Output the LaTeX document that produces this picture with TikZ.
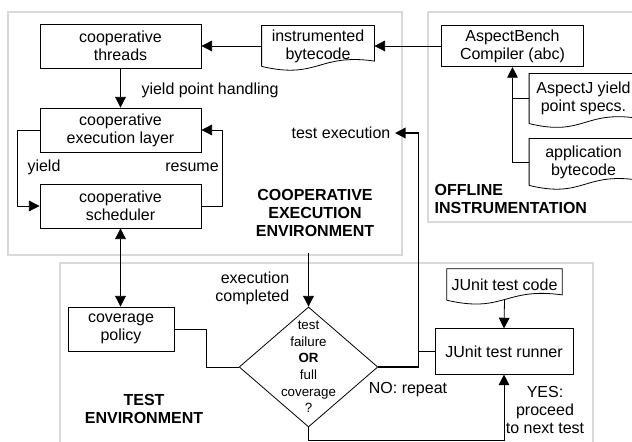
\documentclass[tikz,border=0pt]{standalone}
\usepackage{fontspec}
\setmainfont{Liberation Sans}
\usepackage{tikz}
\usetikzlibrary{arrows.meta,positioning,calc,shapes.geometric}
\definecolor{frame}{HTML}{D9D9D9}
\tikzset{
  >={Triangle[length=8pt,width=8pt]},
  box/.style={draw,line width=0.6pt,inner sep=2pt,align=center,font=\fontsize{12}{13.5}\selectfont},
  proc/.style={box,minimum width=120.75pt,minimum height=33pt},
  docbox/.style={box,draw=none},
  decision/.style={draw,diamond,line width=0.6pt,inner sep=0pt,minimum width=104pt,minimum height=90pt},
  dtext/.style={align=center,font=\fontsize{10}{12.5}\selectfont},
  lab/.style={align=center,font=\fontsize{12}{13.5}\selectfont},
  envlab/.style={align=center,font=\fontsize{12}{13.5}\selectfont\bfseries},
  env/.style={draw=frame,line width=0.9pt},
  arr/.style={->,line width=0.6pt},
  link/.style={line width=0.6pt},
}
% document outline with a wavy lower edge
\newcommand{\docframe}[1]{%
  \draw[line width=0.6pt] (#1.south west) -- (#1.north west) -- (#1.north east) -- ([yshift=4pt]#1.south east)
    .. controls ($(#1.south)+(0,10pt)$) and ($(#1.south)+(0,-10pt)$) .. (#1.south west);}

\begin{document}
\begin{tikzpicture}[x=0.75pt,y=0.75pt]
\useasboundingbox (0,0) rectangle (632,442);

% environments
\draw[env] (8,430) rectangle (402,187);
\draw[env] (428,430) rectangle (660,220);
\draw[env] (60,179) rectangle (593,-20);

\node[envlab] (coopenv) at (315,229) {COOPERATIVE\\EXECUTION\\ENVIRONMENT};
\node[envlab,anchor=west,align=left] (offenv) at (430,243) {OFFLINE\\INSTRUMENTATION};
\node[envlab] (testenv) at (144,33) {TEST\\ENVIRONMENT};

% cooperative execution
\node[proc] (threads) at (120.5,396) {cooperative\\threads};
\node[proc] (layer) at (120.5,312) {cooperative\\execution layer};
\node[proc] (sched) at (120.5,236) {cooperative\\scheduler};
\node[docbox,minimum width=84pt,minimum height=30pt] (instr) at (318,396) {instrumented\\bytecode};
\docframe{instr}

% offline instrumentation
\node[box,minimum width=107pt,minimum height=31pt] (abc) at (512.5,396) {AspectBench\\Compiler (abc)};
\node[docbox,minimum width=81pt,minimum height=37pt] (specs) at (583.5,343.5) {AspectJ yield\\point specs.};
\docframe{specs}
\node[docbox,minimum width=81pt,minimum height=34.5pt] (appbc) at (583.5,280) {application\\bytecode};
\docframe{appbc}

% test environment
\node[box,minimum width=79.5pt,minimum height=33pt] (policy) at (121,113) {coverage\\policy};
\node[decision] (check) at (308.5,75) {};
\node[dtext] (checktxt) at (check.center) {test\\failure\\\textbf{OR}\\full\\coverage\\?};
\node[docbox,minimum width=86pt,minimum height=23pt] (junitcode) at (504.5,157.5) {JUnit test code};
\docframe{junitcode}
\node[box,minimum width=103.5pt,minimum height=34pt] (runner) at (504,90.5) {JUnit test runner};

% labels
\node[lab] (yph) at (210,352) {yield point handling};
\node[lab] (yieldlab) at (44,275) {yield};
\node[lab] (resumelab) at (192,275) {resume};
\node[lab] (testexec) at (341,309) {test execution};
\node[lab,anchor=east,align=right] (execdone) at (294,153.5) {execution\\completed};
\node[lab] (nolab) at (408,52) {NO: repeat};
\node[lab] (yeslab) at (545,32) {YES:\\proceed\\to next test};

% connectors
\draw[arr] (abc) -- (instr);
\draw[arr] (instr) -- (threads);
\draw[arr] (threads) -- (layer);
\draw[arr] (layer.west) -- ++(-22,0) |- (sched.west);
\draw[arr] (sched.east) -- ++(21,0) |- (layer.east);
\draw[<->,line width=0.6pt] (sched.south) -- (sched.south |- policy.north);
\draw[link] (policy.east) -- ++(32,0) |- (check.west);
\draw[arr] (appbc.west) -| (abc.south);
\draw[link] (specs.west) -- (specs.west -| abc.south);
\coordinate (ceebottom) at (308.5,189);
\draw[arr] (ceebottom) -- (check.north);
\coordinate (joint) at ($(runner.west)+(-16,0)$);
\draw[arr,line width=1.2pt] (runner.west) -- (joint) |- (testexec.east);
\draw[line width=1.2pt] (check.east) -| (joint);
\draw[arr] (check.south) -- ++(0,-13) -| (runner.south);
\draw[arr] (junitcode.south) -- (runner.north);
\end{tikzpicture}
\end{document}
